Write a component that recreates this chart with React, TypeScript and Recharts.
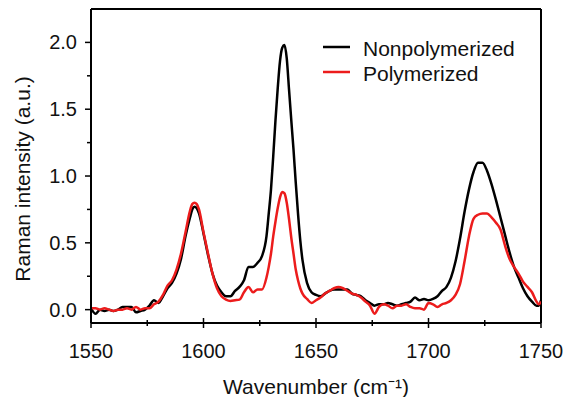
import React from 'react';
import { LineChart, Line, XAxis, YAxis, Legend, ReferenceLine } from 'recharts';

// wavenumber (cm-1) sample positions
const wavenumbers = [
  1550, 1552, 1554, 1556, 1558, 1560, 1562, 1564, 1566, 1568, 1570, 1572, 1574, 1576, 1578,
  1580, 1582, 1584, 1586, 1588, 1590, 1592, 1594, 1595, 1596, 1597, 1598, 1600, 1602, 1604,
  1606, 1608, 1610, 1612, 1614, 1616, 1618, 1620, 1622, 1624, 1626, 1628, 1629, 1630, 1631,
  1632, 1633, 1634, 1635, 1636, 1637, 1638, 1639, 1640, 1641, 1642, 1643, 1644, 1646, 1648,
  1650, 1652, 1654, 1656, 1658, 1660, 1662, 1664, 1666, 1668, 1670, 1672, 1674, 1676, 1678,
  1680, 1682, 1684, 1686, 1688, 1690, 1692, 1694, 1696, 1698, 1700, 1702, 1704, 1706, 1708,
  1710, 1712, 1714, 1716, 1718, 1720, 1722, 1724, 1726, 1728, 1730, 1732, 1734, 1736, 1738,
  1740, 1742, 1744, 1746, 1748, 1749, 1750,
];

const nonpolymerized = [
  0.01, -0.03, 0.0, -0.01, 0.0, -0.01, 0.0, 0.02, 0.02, 0.02, -0.02, -0.01, 0.0, 0.03, 0.07,
  0.05, 0.1, 0.16, 0.2, 0.27, 0.38, 0.55, 0.69, 0.75, 0.77, 0.76, 0.72, 0.57, 0.41, 0.27,
  0.18, 0.13, 0.1, 0.1, 0.14, 0.17, 0.22, 0.32, 0.32, 0.35, 0.4, 0.55, 0.72, 0.9, 1.15,
  1.42, 1.66, 1.86, 1.96, 1.98, 1.88, 1.65, 1.42, 1.2, 0.95, 0.72, 0.52, 0.37, 0.2, 0.13,
  0.11, 0.1, 0.12, 0.14, 0.15, 0.15, 0.15, 0.15, 0.12, 0.11, 0.1, 0.07, 0.05, 0.03, 0.04,
  0.04, 0.05, 0.04, 0.03, 0.04, 0.05, 0.06, 0.09, 0.07, 0.08, 0.07, 0.08, 0.1, 0.14, 0.17,
  0.24, 0.36, 0.53, 0.73, 0.9, 1.03, 1.1, 1.1, 1.04, 0.94, 0.82, 0.69, 0.56, 0.43, 0.32,
  0.24, 0.16, 0.1, 0.06, 0.03, 0.03, 0.07,
];

const polymerized = [
  0.01, 0.01, 0.0, 0.01, 0.0, -0.01, 0.0, 0.0, 0.01, 0.0, 0.02, 0.0, 0.01, 0.01, 0.04,
  0.06, 0.11, 0.18, 0.22, 0.3, 0.42, 0.58, 0.74, 0.79, 0.8, 0.79, 0.75, 0.58, 0.42, 0.27,
  0.16, 0.1, 0.075, 0.065, 0.07, 0.075, 0.13, 0.17, 0.13, 0.15, 0.15, 0.24, 0.32, 0.42, 0.55,
  0.66, 0.76, 0.84, 0.88, 0.87, 0.8, 0.68, 0.54, 0.42, 0.3, 0.22, 0.16, 0.12, 0.08, 0.05,
  0.07, 0.09, 0.12, 0.14, 0.16, 0.17, 0.16, 0.14, 0.12, 0.11, 0.09, 0.06, 0.03, -0.03, 0.02,
  0.04, 0.03, 0.01, 0.03, 0.03, 0.04, 0.02, 0.01, 0.01, 0.0, 0.05, 0.04, 0.02, 0.04, 0.05,
  0.07, 0.11, 0.19, 0.36, 0.55, 0.68, 0.71, 0.72, 0.72, 0.69, 0.65, 0.6, 0.48, 0.38, 0.32,
  0.27, 0.21, 0.17, 0.13, 0.06, 0.04, 0.06,
];

const xTicks = [1550, 1575, 1600, 1625, 1650, 1675, 1700, 1725, 1750];
const yTicks = [0, 0.25, 0.5, 0.75, 1, 1.25, 1.5, 1.75, 2];
const xDomain = [1550, 1750];
const yDomain = [-0.1, 2.25];

const data = wavenumbers.map((w, i) => ({
  w,
  nonpolymerized: nonpolymerized[i],
  polymerized: polymerized[i],
}));

const FONT = '"Liberation Sans", Arial, sans-serif';
const RED = '#ec1c1c';

const XTick = (props: any) => {
  const { x, y, payload } = props;
  const major = payload.value % 50 === 0;
  const len = major ? 5 : 3;
  return (
    <g>
      <line x1={x} x2={x} y1={y - len} y2={y + len} stroke="#000" strokeWidth={1.5} />
      {major && (
        <text x={x} y={y + 35} textAnchor="middle" fontSize={20} fill="#111" fontFamily={FONT}>
          {payload.value}
        </text>
      )}
    </g>
  );
};

const YTick = (props: any) => {
  const { x, y, payload } = props;
  const major = Math.abs((payload.value * 2) % 1) < 1e-6;
  const len = major ? 6 : 4;
  return (
    <g>
      <line x1={x - len} x2={x} y1={y} y2={y} stroke="#000" strokeWidth={1.5} />
      {major && (
        <text x={x - 14} y={y + 7} textAnchor="end" fontSize={20} fill="#111" fontFamily={FONT}>
          {payload.value.toFixed(1)}
        </text>
      )}
    </g>
  );
};

const LegendBox = () => (
  <svg width={230} height={52} style={{ display: 'block' }}>
    <line x1={1} x2={28} y1={12} y2={12} stroke="#000" strokeWidth={2.5} />
    <text x={41} y={21} fontSize={21} fill="#111" fontFamily={FONT}>Nonpolymerized</text>
    <line x1={1} x2={28} y1={37} y2={37} stroke={RED} strokeWidth={2.5} />
    <text x={41} y={45.5} fontSize={21} fill="#111" fontFamily={FONT}>Polymerized</text>
  </svg>
);

export default function App() {
  return (
    <div style={{ position: 'absolute', left: 0, top: 0, width: 563, height: 397, background: '#fff' }}>
      <LineChart width={563} height={397} data={data} margin={{ top: 9, right: 22, bottom: 0, left: 0 }}>
        <XAxis
          dataKey="w"
          type="number"
          domain={xDomain}
          ticks={xTicks}
          interval={0}
          height={74}
          tickSize={0}
          tickMargin={0}
          tickLine={false}
          tick={<XTick />}
          axisLine={{ stroke: '#000', strokeWidth: 2 }}
          allowDataOverflow
          label={{
            value: 'Wavenumber (cm⁻¹)',
            position: 'insideBottom',
            offset: 3,
            fontSize: 21,
            fill: '#111',
            fontFamily: FONT,
          }}
        />
        <YAxis
          type="number"
          domain={yDomain}
          ticks={yTicks}
          interval={0}
          width={91}
          tickSize={0}
          tickMargin={0}
          tickLine={false}
          tick={<YTick />}
          axisLine={{ stroke: '#000', strokeWidth: 2 }}
          allowDataOverflow
          label={{
            content: () => (
              <text
                x={22}
                y={179}
                transform="rotate(-90 22 179)"
                textAnchor="middle"
                dominantBaseline="central"
                fontSize={21}
                fill="#111"
                fontFamily={FONT}
              >
                Raman intensity (a.u.)
              </text>
            ),
          }}
        />
        {/* frame: top and right edges */}
        <ReferenceLine y={yDomain[1]} stroke="#000" strokeWidth={2} ifOverflow="visible" />
        <ReferenceLine x={xDomain[1]} stroke="#000" strokeWidth={2} ifOverflow="visible" />
        <Legend
          layout="horizontal"
          verticalAlign="middle"
          align="center"
          content={<LegendBox />}
          wrapperStyle={{ position: 'absolute', top: 35, left: 322, width: 230, height: 52 }}
        />
        <Line
          type="monotone"
          dataKey="nonpolymerized"
          stroke="#000"
          strokeWidth={2.5}
          dot={false}
          isAnimationActive={false}
        />
        <Line
          type="monotone"
          dataKey="polymerized"
          stroke={RED}
          strokeWidth={2.5}
          dot={false}
          isAnimationActive={false}
        />
      </LineChart>
    </div>
  );
}
